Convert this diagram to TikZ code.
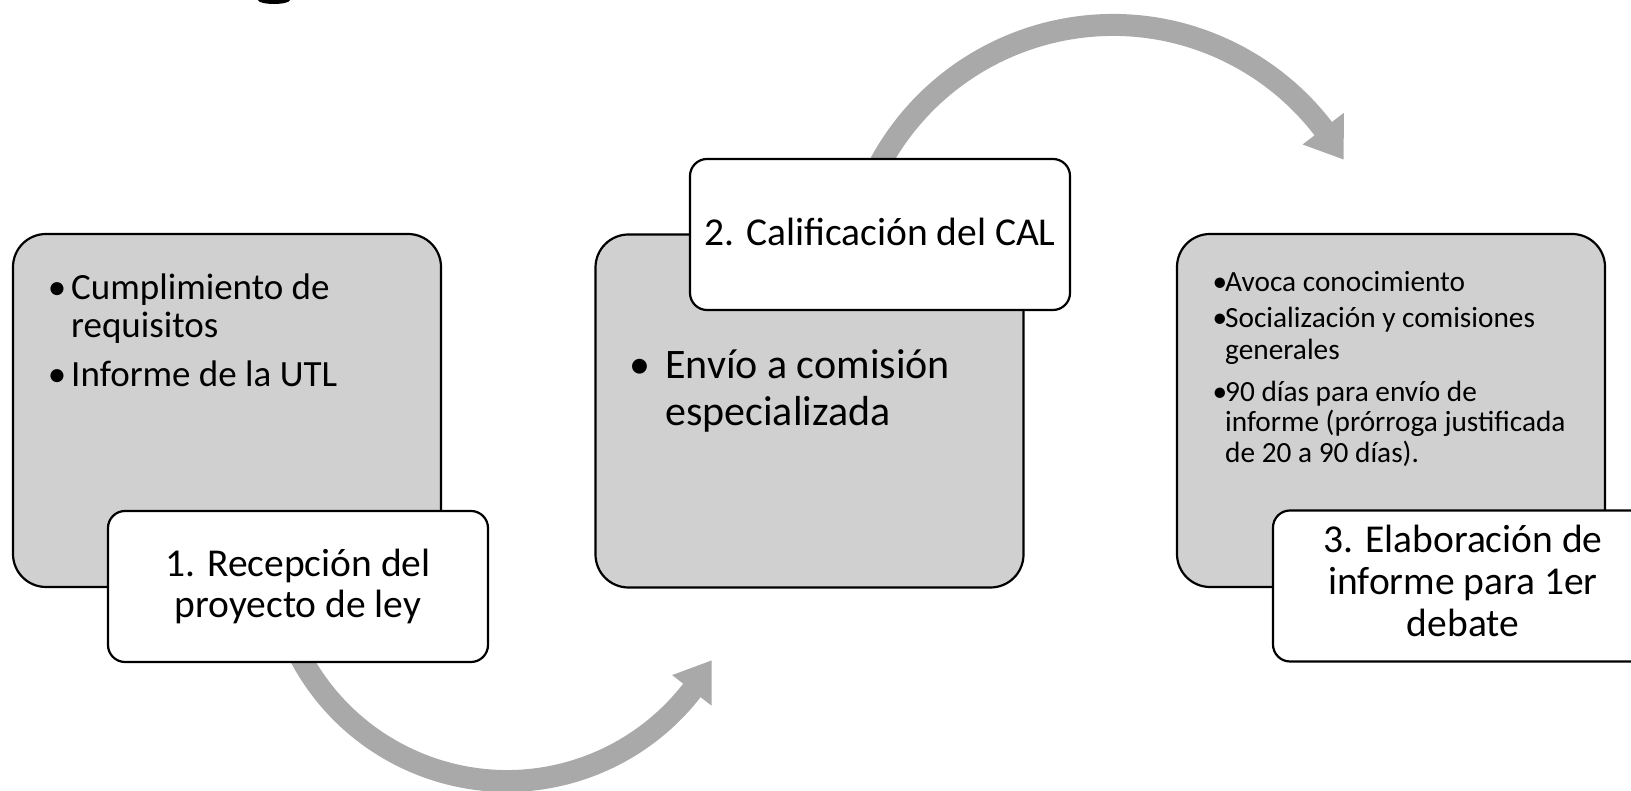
\documentclass[tikz,border=0pt]{standalone}
\usepackage{fontspec}
\setmainfont{Carlito}
\usetikzlibrary{calc}
\definecolor{boxgray}{RGB}{208,208,208}
\definecolor{arrowgray}{RGB}{169,169,169}
\begin{document}
\begin{tikzpicture}[x=1pt,y=1pt,
  graybox/.style={draw=black, line width=2.2pt, fill=boxgray, rounded corners=33pt, minimum width=428pt, minimum height=353pt, inner sep=0pt},
  whitebox/.style={draw=black, line width=2.2pt, fill=white, rounded corners=17pt, minimum width=380pt, minimum height=151pt, inner sep=0pt},
  shaft/.style={draw=arrowgray, line width=22pt},
  head/.style={fill=arrowgray},
  fa/.style={font=\fontsize{37}{44}\selectfont},
  fb/.style={font=\fontsize{42}{48}\selectfont},
  fc/.style={font=\fontsize{29.3}{34}\selectfont},
  txt/.style={inner sep=0pt, anchor=base west},
  dot/.style={inner sep=0pt, anchor=base},
  ttl/.style={inner sep=0pt, anchor=base, font=\fontsize{39.5}{42}\selectfont}
]
\useasboundingbox (0,0) rectangle (1631,791);
% remnant at top edge
\fill[black] (274,791) ellipse [x radius=16pt, y radius=4pt];

% circular arrows
\coordinate (cb) at (507,244);
\coordinate (ct) at (1113,501);
\coordinate (bs) at ($(cb)+(203:234)$);
\coordinate (ts) at ($(ct)+(153:265)$);
\draw[shaft] (bs) arc[start angle=203, end angle=324.5, radius=234pt];
\fill[head] ($(cb)+(322.2:209)$) -- ($(cb)+(331:234)$) -- ($(cb)+(322.2:259)$) -- cycle;
\draw[shaft] (ts) arc[start angle=153, end angle=35, radius=265pt];
\fill[head] ($(ct)+(37.5:239)$) -- ($(ct)+(29.5:265)$) -- ($(ct)+(37.5:291)$) -- cycle;

% boxes
\node[graybox] (g1) at (227,380.5) {};
\node[graybox] (g2) at (809.5,380) {};
\node[graybox] (g3) at (1391,380.5) {};
\node[whitebox] (w1) at (298,204.5) {};
\node[whitebox] (w2) at (880,556.5) {};
\node[whitebox] (w3) at (1463,205) {};

% box 1 text
\node[dot,fa] (d1a) at (57,491) {•};
\node[txt,fa] (t1a) at (71,491) {Cumplimiento de};
\node[txt,fa] (t1b) at (71,453) {requisitos};
\node[dot,fa] (d1b) at (57,404) {•};
\node[txt,fa] (t1c) at (71,404) {Informe de la UTL};

% box 2 text
\node[dot,fb] (d2a) at (640,412) {•};
\node[txt,fb] (t2a) at (665,412) {Envío a comisión};
\node[txt,fb] (t2b) at (665,365) {especializada};

% box 3 text
\node[dot,fc] (d3a) at (1220,499) {•};
\node[txt,fc] (t3a) at (1225,499) {Avoca conocimiento};
\node[dot,fc] (d3b) at (1220,463) {•};
\node[txt,fc] (t3b) at (1225,463) {Socialización y comisiones};
\node[txt,fc] (t3c) at (1225,431) {generales};
\node[dot,fc] (d3c) at (1220,389) {•};
\node[txt,fc] (t3d) at (1225,389) {90 días para envío de};
\node[txt,fc] (t3e) at (1225,359) {informe (prórroga justificada};
\node[txt,fc] (t3f) at (1225,328) {de 20 a 90 días).};

% titles
\node[ttl] (h1a) at (298,214) {1. Recepción del};
\node[ttl] (h1b) at (298,173) {proyecto de ley};
\node[ttl] (h2a) at (880,545) {2. Calificación del CAL};
\node[ttl] (h3a) at (1463,238) {3. Elaboración de};
\node[ttl] (h3b) at (1463,196) {informe para 1er};
\node[ttl] (h3c) at (1463,154) {debate};
\end{tikzpicture}
\end{document}
